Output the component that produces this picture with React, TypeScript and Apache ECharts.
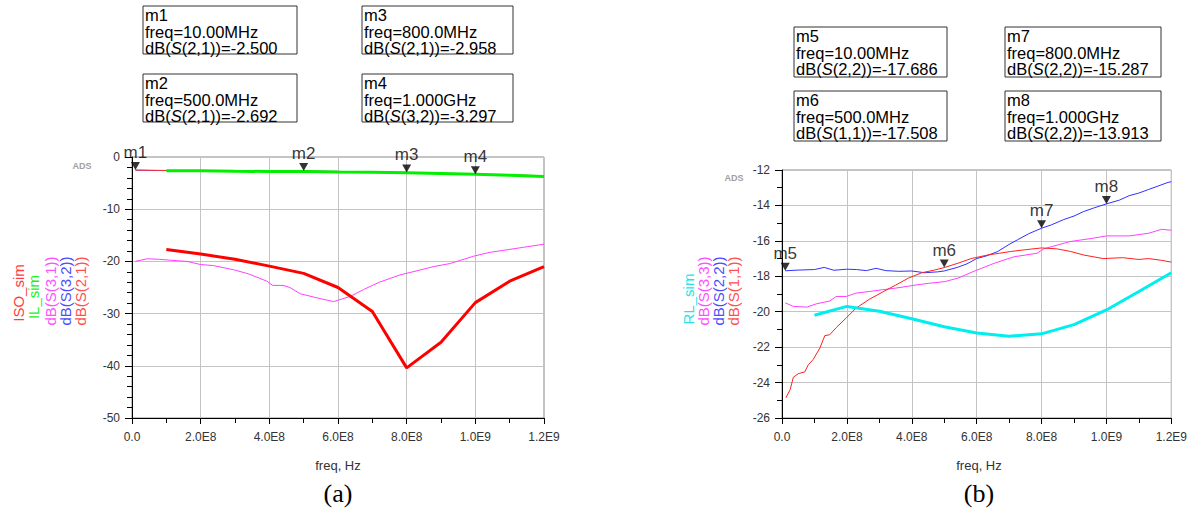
import React, { useEffect, useRef } from 'react';
import * as echarts from 'echarts';

const FONT = '"Liberation Sans", Arial, Helvetica, sans-serif';
const SERIF = '"Liberation Serif", "Times New Roman", serif';

// ---------- Plot (a) ----------
const freqCoarse = [1e8, 2e8, 3e8, 4e8, 5e8, 6e8, 7e8, 8e8, 9e8, 1e9, 1.1e9, 1.2e9];
const isoSim = [-17.7, -18.6, -19.6, -20.9, -22.3, -25.0, -29.6, -40.4, -35.5, -27.9, -23.8, -21.0];
const ilSim = [-2.62, -2.65, -2.72, -2.78, -2.8, -2.88, -2.93, -3.0, -3.15, -3.32, -3.5, -3.75];

const freqThinA = [1e7, 5e7, 1e8, 2e8, 3e8, 4e8, 5e8, 6e8, 7e8, 8e8, 9e8, 1e9, 1.1e9, 1.2e9];
const s21 = [-2.5, -2.55, -2.58, -2.62, -2.66, -2.68, -2.692, -2.76, -2.85, -2.958, -3.1, -3.28, -3.42, -3.6];
const s32 = [-2.52, -2.56, -2.6, -2.64, -2.68, -2.7, -2.72, -2.78, -2.88, -2.98, -3.12, -3.297, -3.44, -3.62];

const freqS31 = [1e7, 4.4e7, 8e7, 1.16e8, 1.6e8, 2e8, 2.37e8, 2.96e8, 3.4e8, 3.93e8, 4.1e8, 4.4e8, 4.6e8, 4.9e8, 5.4e8, 5.87e8, 6.36e8, 6.74e8, 7.2e8, 7.8e8, 8.3e8, 8.78e8, 9.27e8, 9.95e8, 1.04e9, 1.09e9, 1.14e9, 1.2e9];
const s31 = [-20.0, -19.5, -19.6, -19.8, -20.0, -20.6, -20.8, -21.6, -22.4, -23.8, -24.6, -24.6, -25.0, -26.2, -27.0, -27.7, -26.7, -25.4, -24.0, -22.6, -21.8, -21.0, -20.4, -19.0, -18.3, -17.8, -17.3, -16.7];

// ---------- Plot (b) ----------
const rlSim = [-20.2, -19.7, -19.97, -20.4, -20.85, -21.2, -21.38, -21.25, -20.73, -19.9, -18.86, -17.8];

const freqS22 = [1e7, 5e7, 1e8, 1.3e8, 1.6e8, 2e8, 2.3e8, 2.6e8, 2.9e8, 3.2e8, 3.6e8, 4e8, 4.4e8, 4.8e8, 5e8, 5.4e8, 5.7e8, 6e8, 6.3e8, 6.65e8, 7e8, 7.26e8, 7.6e8, 8e8, 8.3e8, 8.68e8, 9e8, 9.29e8, 9.6e8, 1e9, 1.04e9, 1.07e9, 1.1e9, 1.13e9, 1.16e9, 1.19e9, 1.2e9];
const s22 = [-17.69, -17.65, -17.62, -17.5, -17.66, -17.6, -17.62, -17.68, -17.55, -17.68, -17.72, -17.7, -17.8, -17.75, -17.7, -17.5, -17.3, -17.0, -16.85, -16.6, -16.2, -15.94, -15.6, -15.287, -15.1, -14.8, -14.6, -14.35, -14.15, -13.913, -13.7, -13.45, -13.3, -13.1, -12.9, -12.7, -12.66];

const freqS11 = [1.2e7, 2.5e7, 3.5e7, 5e7, 7e7, 8.1e7, 9.6e7, 1.17e8, 1.32e8, 1.47e8, 1.67e8, 1.98e8, 2.28e8, 2.69e8, 3.09e8, 3.5e8, 3.9e8, 4.31e8, 4.7e8, 5e8, 5.43e8, 5.83e8, 6.34e8, 6.7e8, 7.05e8, 7.5e8, 8e8, 8.47e8, 8.9e8, 9.3e8, 9.9e8, 1.05e9, 1.1e9, 1.13e9, 1.17e9, 1.2e9];
const s11 = [-24.86, -24.4, -23.7, -23.5, -23.4, -23.0, -22.7, -22.04, -21.35, -21.3, -20.9, -20.35, -19.8, -19.3, -18.9, -18.5, -18.1, -17.8, -17.65, -17.508, -17.26, -17.0, -16.8, -16.7, -16.6, -16.5, -16.4, -16.45, -16.6, -16.8, -17.0, -16.95, -17.05, -17.0, -17.1, -17.2];

const freqS33 = [1e7, 3.5e7, 7.6e7, 1.07e8, 1.47e8, 1.67e8, 1.98e8, 2.28e8, 2.69e8, 3.09e8, 3.5e8, 4.1e8, 4.51e8, 5.02e8, 5.43e8, 5.94e8, 6.55e8, 7.15e8, 7.86e8, 8.07e8, 8.88e8, 9.59e8, 1e9, 1.07e9, 1.13e9, 1.17e9, 1.2e9];
const s33 = [-19.5, -19.7, -19.74, -19.55, -19.4, -19.14, -19.14, -18.95, -18.86, -18.76, -18.67, -18.5, -18.4, -18.3, -18.1, -17.7, -17.26, -16.9, -16.7, -16.45, -16.04, -15.85, -15.72, -15.72, -15.57, -15.35, -15.4];

// ---------- Markers ----------
const markersA = [
  { name: 'm1', freq: 1e7, freqText: '10.00MHz', trace: '2,1', value: -2.5, valueText: '-2.500' },
  { name: 'm2', freq: 5e8, freqText: '500.0MHz', trace: '2,1', value: -2.692, valueText: '-2.692' },
  { name: 'm3', freq: 8e8, freqText: '800.0MHz', trace: '2,1', value: -2.958, valueText: '-2.958' },
  { name: 'm4', freq: 1e9, freqText: '1.000GHz', trace: '3,2', value: -3.297, valueText: '-3.297' },
];
const markersB = [
  { name: 'm5', freq: 1e7, freqText: '10.00MHz', trace: '2,2', value: -17.686, valueText: '-17.686' },
  { name: 'm6', freq: 5e8, freqText: '500.0MHz', trace: '1,1', value: -17.508, valueText: '-17.508' },
  { name: 'm7', freq: 8e8, freqText: '800.0MHz', trace: '2,2', value: -15.287, valueText: '-15.287' },
  { name: 'm8', freq: 1e9, freqText: '1.000GHz', trace: '2,2', value: -13.913, valueText: '-13.913' },
];

const labelsA = [
  { text: 'ISO_sim', color: '#ff3b3b' },
  { text: 'IL_sim', color: '#22ee22' },
  { text: 'dB(S(3,1))', color: '#ff50ff' },
  { text: 'dB(S(3,2))', color: '#4d4dff' },
  { text: 'dB(S(2,1))', color: '#ff5050' },
];
const labelsB = [
  { text: 'RL_sim', color: '#22e5e5' },
  { text: 'dB(S(3,3))', color: '#ff50ff' },
  { text: 'dB(S(2,2))', color: '#4d4dff' },
  { text: 'dB(S(1,1))', color: '#ff5050' },
];

const zip = (xs: number[], ys: number[]) => xs.map((x, i) => [x, ys[i]]);

const fmtFreq = (v: number) => {
  if (Math.abs(v) < 1) return '0.0';
  const e = Math.floor(Math.log10(v) + 1e-9);
  return (v / Math.pow(10, e)).toFixed(1) + 'E' + e;
};

function xAxisCfg(gridIndex: number) {
  return {
    type: 'value',
    gridIndex,
    min: 0,
    max: 1.2e9,
    interval: 2e8,
    axisLine: { show: true, onZero: false, lineStyle: { color: '#000', width: 1 } },
    axisTick: { show: true, length: 6, lineStyle: { color: '#000' } },
    minorTick: { show: true, splitNumber: 2, length: 5, lineStyle: { color: '#000' } },
    splitLine: { show: true, lineStyle: { color: '#c4c4c4', width: 1 } },
    axisLabel: { formatter: fmtFreq, fontSize: 12, color: '#333', margin: 13, fontFamily: FONT, showMinLabel: true, showMaxLabel: true },
  };
}
function yAxisCfg(gridIndex: number, min: number, max: number, interval: number, minorSplit: number) {
  return {
    type: 'value',
    gridIndex,
    min,
    max,
    interval,
    axisLine: { show: true, onZero: false, lineStyle: { color: '#000', width: 1 } },
    axisTick: { show: true, length: 7, lineStyle: { color: '#000' } },
    minorTick: { show: true, splitNumber: minorSplit, length: 5, lineStyle: { color: '#000' } },
    splitLine: { show: true, lineStyle: { color: '#c4c4c4', width: 1 } },
    axisLabel: { fontSize: 12, color: '#333', margin: 12, fontFamily: FONT },
  };
}

function lineSeries(xi: number, data: number[][], color: string, width: number) {
  return {
    type: 'line',
    xAxisIndex: xi,
    yAxisIndex: xi,
    data,
    showSymbol: false,
    symbol: 'none',
    lineStyle: { color, width },
    itemStyle: { color },
    silent: true,
  };
}

function markerSeries(xi: number, markers: typeof markersA) {
  return {
    type: 'scatter',
    xAxisIndex: xi,
    yAxisIndex: xi,
    clip: false,
    symbol: 'triangle',
    symbolRotate: 180,
    symbolSize: [9, 8],
    symbolOffset: [0, -4],
    itemStyle: { color: '#000' },
    z: 10,
    label: {
      show: true,
      position: 'top',
      distance: 1,
      formatter: (p: any) => p.name,
      fontSize: 17,
      color: '#000',
      fontFamily: FONT,
    },
    data: markers.map((m) => ({ name: m.name, value: [m.freq, m.value] })),
  };
}

function markerBox(m: typeof markersA[0], x: number, y: number, w: number, h: number) {
  return {
    type: 'group',
    children: [
      { type: 'rect', shape: { x, y, width: w, height: h }, style: { fill: '#fff', stroke: '#333', lineWidth: 1 } },
      {
        type: 'text',
        x: x + 2,
        y: y + 1,
        style: {
          text: `${m.name}\nfreq=${m.freqText}\ndB({i|S}(${m.trace}))=${m.valueText}`,
          font: `16.5px ${FONT}`,
          fill: '#000',
          lineHeight: 16.5,
          verticalAlign: 'top',
          rich: { i: { fontStyle: 'italic', fontSize: 16.5, fontFamily: FONT, lineHeight: 16.5 } },
        },
      },
    ],
  };
}

function vText(text: string, color: string, x: number, y: number) {
  return {
    type: 'text',
    x,
    y,
    rotation: Math.PI / 2,
    style: { text, fill: color, font: `15px ${FONT}`, align: 'center', verticalAlign: 'middle' },
  };
}
function hText(text: string, x: number, y: number, font: string, fill: string) {
  return { type: 'text', x, y, style: { text, fill, font, align: 'center', verticalAlign: 'middle' } };
}

export default function App() {
  const ref = useRef<HTMLDivElement>(null);
  useEffect(() => {
    if (!ref.current) return;
    const chart = echarts.init(ref.current, undefined, { renderer: 'svg' });
    const xsA = [18, 33, 50, 65, 80];
    const ysA = [293, 297, 291, 291, 291];
    const xsB = [688, 703, 718, 733];
    const ysB = [299, 291, 291, 291];
    chart.setOption({
      animation: false,
      backgroundColor: '#fff',
      grid: [
        { left: 132, top: 157, width: 412, height: 261, show: true, borderColor: '#888', borderWidth: 1, backgroundColor: 'transparent' },
        { left: 782, top: 170, width: 394, height: 248, show: true, borderColor: '#888', borderWidth: 1, backgroundColor: 'transparent' },
      ],
      xAxis: [xAxisCfg(0), xAxisCfg(1)],
      yAxis: [yAxisCfg(0, -50, 0, 10, 5), yAxisCfg(1, -26, -12, 2, 2)],
      series: [
        lineSeries(0, zip(freqS31, s31), '#ff40ff', 1),
        lineSeries(0, zip(freqThinA, s32), '#3a3aff', 1),
        lineSeries(0, zip(freqThinA, s21), '#ff3030', 1),
        lineSeries(0, zip(freqCoarse, ilSim), '#00f000', 3),
        lineSeries(0, zip(freqCoarse, isoSim), '#ff0000', 3),
        markerSeries(0, markersA),
        lineSeries(1, zip(freqS33, s33), '#ff40ff', 1),
        lineSeries(1, zip(freqS22, s22), '#3030ff', 1),
        lineSeries(1, zip(freqS11, s11), '#ff2020', 1),
        lineSeries(1, zip(freqCoarse, rlSim), '#00eeee', 3),
        markerSeries(1, markersB),
      ],
      graphic: [
        markerBox(markersA[0], 143, 6, 154, 48),
        markerBox(markersA[1], 143, 74, 154, 48),
        markerBox(markersA[2], 362, 6, 151, 48),
        markerBox(markersA[3], 362, 74, 151, 48),
        markerBox(markersB[0], 794, 27, 153, 50),
        markerBox(markersB[1], 794, 91, 153, 50),
        markerBox(markersB[2], 1005, 27, 156, 50),
        markerBox(markersB[3], 1005, 91, 156, 50),
        ...labelsA.map((l, i) => vText(l.text, l.color, xsA[i], ysA[i])),
        ...labelsB.map((l, i) => vText(l.text, l.color, xsB[i], ysB[i])),
        hText('ADS', 82, 166, `bold 9px ${FONT}`, '#a0a0a0'),
        hText('ADS', 734, 178, `bold 9px ${FONT}`, '#a0a0a0'),
        hText('freq, Hz', 338, 465, `13px ${FONT}`, '#333'),
        hText('freq, Hz', 979, 465, `13px ${FONT}`, '#333'),
        hText('(a)', 338, 493, `26px ${SERIF}`, '#000'),
        hText('(b)', 979, 493, `26px ${SERIF}`, '#000'),
      ],
    });
    return () => chart.dispose();
  }, []);
  return <div ref={ref} style={{ position: 'absolute', left: 0, top: 0, width: 1190, height: 512 }} />;
}
